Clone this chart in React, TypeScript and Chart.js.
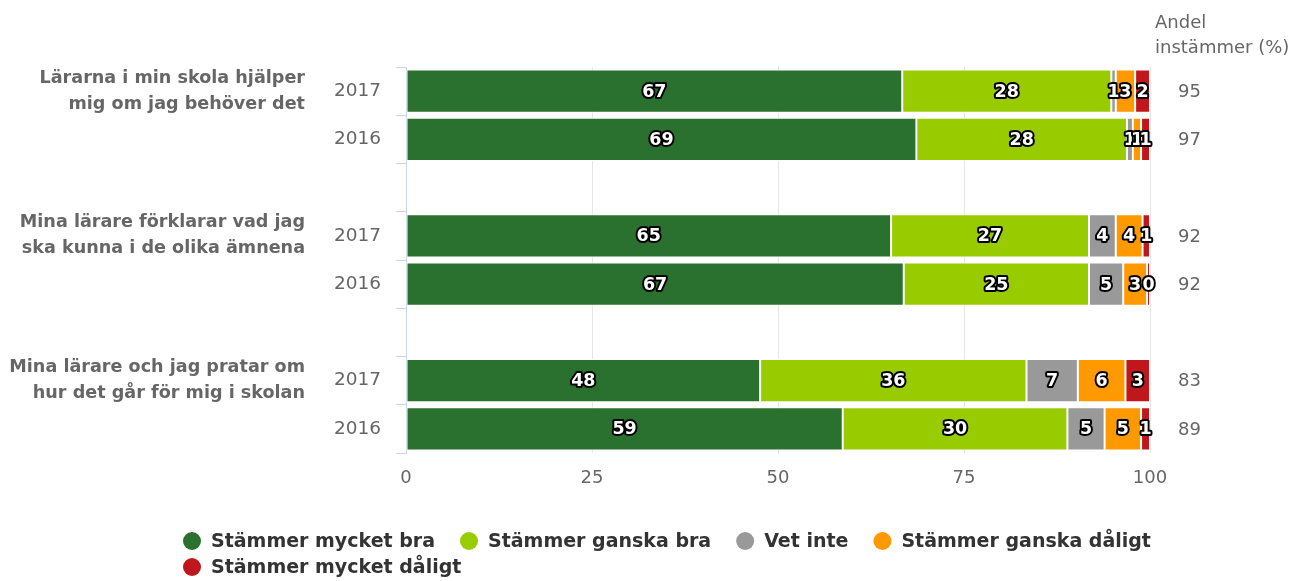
import React, { useEffect, useRef } from "react";
import { Chart, registerables } from "chart.js";

Chart.register(...registerables);

// ---- Data ----
const questionLines = [
  ["Lärarna i min skola hjälper", "mig om jag behöver det"],
  ["Mina lärare förklarar vad jag", "ska kunna i de olika ämnena"],
  ["Mina lärare och jag pratar om", "hur det går för mig i skolan"],
];
const yearLabels = ["2017", "2016", "", "2017", "2016", "", "2017", "2016"];
const rowSlots = [0, 1, 3, 4, 6, 7];
const seriesNames = [
  "Stämmer mycket bra",
  "Stämmer ganska bra",
  "Vet inte",
  "Stämmer ganska dåligt",
  "Stämmer mycket dåligt",
];
const seriesColors = ["#2a702e", "#99cc00", "#999999", "#ff9900", "#c0171c"];
const mycketBra = [66.7, 68.6, 65.2, 66.9, 47.6, 58.7];
const ganskaBra = [28.1, 28.3, 26.6, 24.9, 35.8, 30.2];
const vetInte = [0.6, 0.8, 3.6, 4.6, 6.9, 5.0];
const ganskaDaligt = [2.6, 1.1, 3.6, 3.2, 6.4, 4.9];
const mycketDaligt = [2.0, 1.2, 1.0, 0.4, 3.3, 1.2];
const andelInstammer = [95, 97, 92, 92, 83, 89];
const xTicks = [0, 25, 50, 75, 100];
const andelTitle = ["Andel", "instämmer (%)"];

const FONT = '"DejaVu Sans", "Noto Sans", sans-serif';

function toSlots(values: number[]): (number | null)[] {
  const out: (number | null)[] = yearLabels.map(() => null);
  rowSlots.forEach((slot, i) => {
    out[slot] = values[i];
  });
  return out;
}

const overlayPlugin = {
  id: "overlay",
  afterDatasetsDraw(chart: any) {
    const ctx = chart.ctx;
    ctx.save();
    ctx.font = `bold 17.5px ${FONT}`;
    ctx.textAlign = "center";
    ctx.textBaseline = "middle";
    ctx.lineJoin = "round";
    chart.data.datasets.forEach((ds: any, di: number) => {
      const meta = chart.getDatasetMeta(di);
      meta.data.forEach((el: any, i: number) => {
        const v = ds.data[i];
        if (v === null || v === undefined) return;
        const cx = (el.x + el.base) / 2;
        const txt = String(Math.round(v));
        ctx.lineWidth = 4;
        ctx.strokeStyle = "#000000";
        ctx.strokeText(txt, cx, el.y + 1);
        ctx.fillStyle = "#ffffff";
        ctx.fillText(txt, cx, el.y + 1);
      });
    });
    ctx.restore();
  },
  afterDraw(chart: any) {
    const ctx = chart.ctx;
    const yScale = chart.scales.y;
    ctx.save();
    // question labels
    ctx.font = `bold 17.6px ${FONT}`;
    ctx.fillStyle = "#666666";
    ctx.textAlign = "right";
    ctx.textBaseline = "middle";
    questionLines.forEach((lines, qi) => {
      const cy = yScale.getPixelForValue(rowSlots[qi * 2]);
      ctx.fillText(lines[0], 305, cy - 13);
      ctx.fillText(lines[1], 305, cy + 13);
    });
    // andel values
    ctx.font = `18px ${FONT}`;
    ctx.textAlign = "left";
    andelInstammer.forEach((v, i) => {
      const cy = yScale.getPixelForValue(rowSlots[i]);
      ctx.fillText(String(v), 1178, cy + 1);
    });
    ctx.fillText(andelTitle[0], 1155, 23);
    ctx.fillText(andelTitle[1], 1155, 48);
    // legend
    ctx.font = `bold 19px ${FONT}`;
    let cx = 192;
    let cy = 541;
    seriesNames.forEach((name, i) => {
      const w = ctx.measureText(name).width;
      if (cx + 19 + w > 1220) {
        cx = 192;
        cy += 26;
      }
      ctx.beginPath();
      ctx.arc(cx, cy, 9, 0, Math.PI * 2);
      ctx.fillStyle = seriesColors[i];
      ctx.fill();
      ctx.fillStyle = "#333333";
      ctx.fillText(name, cx + 19, cy + 1);
      cx += 19 + w + 34;
    });
    ctx.restore();
  },
};

export default function App() {
  const canvasRef = useRef<HTMLCanvasElement | null>(null);

  useEffect(() => {
    if (!canvasRef.current) return;
    const allSeries = [mycketBra, ganskaBra, vetInte, ganskaDaligt, mycketDaligt];
    const chart = new Chart(canvasRef.current, {
      type: "bar",
      data: {
        labels: yearLabels,
        datasets: allSeries.map((vals, i) => ({
          label: seriesNames[i],
          data: toSlots(vals),
          backgroundColor: seriesColors[i],
          borderColor: "#ffffff",
          borderWidth: 1,
          borderSkipped: false,
          barPercentage: 0.9,
          categoryPercentage: 1,
        })),
      },
      options: {
        indexAxis: "y",
        responsive: true,
        maintainAspectRatio: false,
        animation: false,
        layout: { padding: { top: 67, right: 144, bottom: 0, left: 0 } },
        plugins: {
          legend: { display: false },
          tooltip: { enabled: false },
        },
        scales: {
          x: {
            stacked: true,
            min: 0,
            max: 100,
            afterBuildTicks: (scale: any) => {
              scale.ticks = xTicks.map((v) => ({ value: v }));
            },
            afterFit: (scale: any) => {
              scale.height = 128;
            },
            ticks: {
              color: "#666666",
              font: { family: FONT, size: 18 },
              padding: 15,
            },
            grid: { color: "#e6e6e6", drawTicks: false },
            border: { display: false },
          },
          y: {
            stacked: true,
            afterFit: (scale: any) => {
              scale.width = 406;
            },
            ticks: {
              color: "#666666",
              font: { family: FONT, size: 18.5 },
              padding: 15,
            },
            grid: {
              offset: true,
              drawOnChartArea: false,
              color: "#ccd6eb",
              tickLength: 10,
            },
            border: { display: true, color: "#ccd6eb" },
          },
        },
      } as any,
      plugins: [overlayPlugin],
    });
    return () => chart.destroy();
  }, []);

  return (
    <div style={{ position: "fixed", left: 0, top: 0, width: 1294, height: 581, background: "#fff" }}>
      <canvas ref={canvasRef} />
    </div>
  );
}
